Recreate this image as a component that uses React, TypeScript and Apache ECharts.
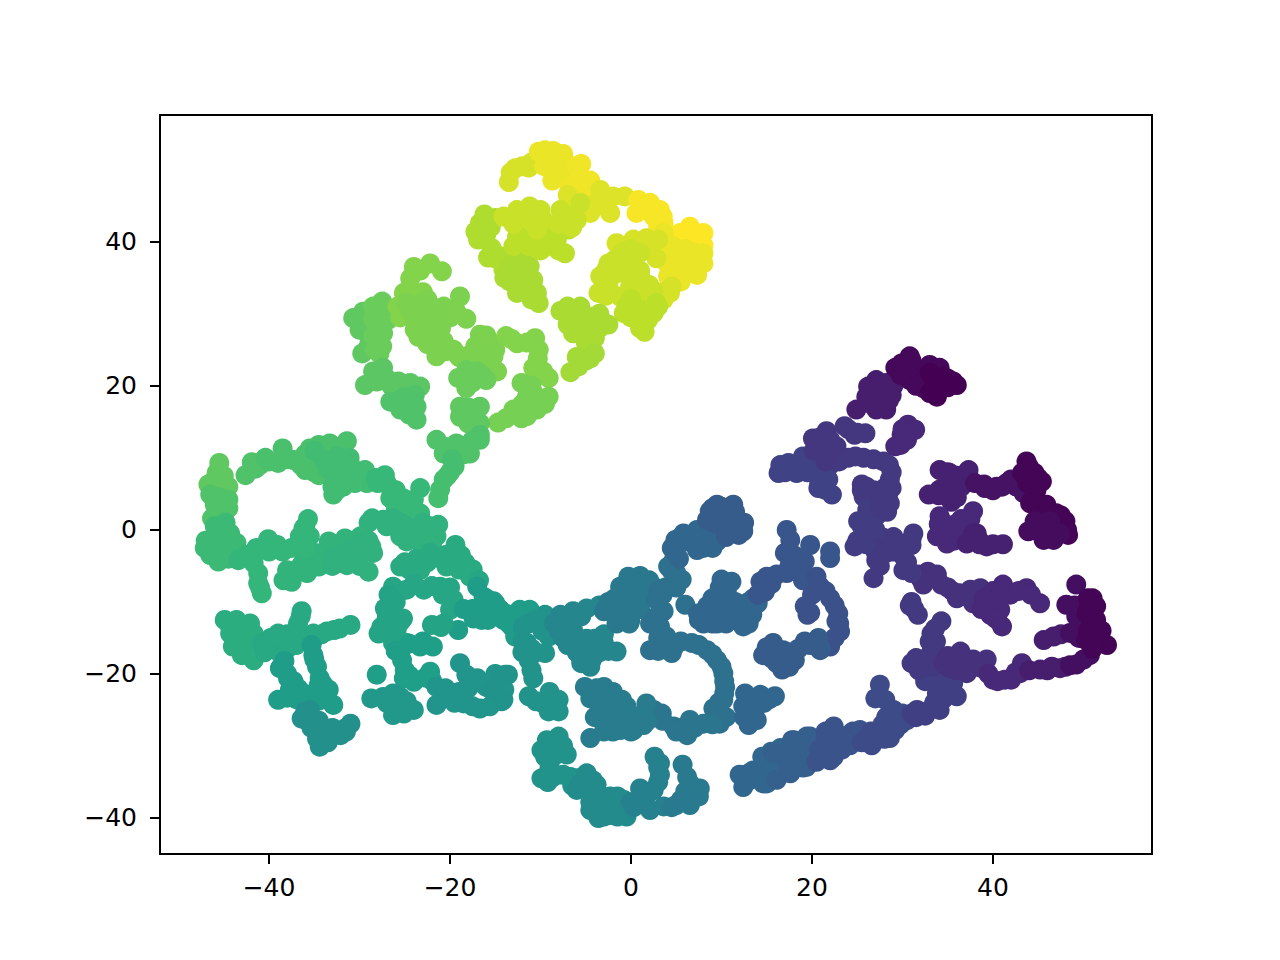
import React, { useEffect, useRef } from "react";
import * as echarts from "echarts";

const xTicks = [-40, -20, 0, 20, 40];
const yTicks = [-40, -20, 0, 20, 40];
const viridis = ["#440154", "#482878", "#3e4989", "#31688e", "#26828e", "#1f9e89", "#35b779", "#6ece58", "#b5de2b", "#fde725"];

// Each row: colour value, then x,y pairs.
const yellowGroup: number[][] = [
  [.94, -13.5,48.3, -13.3,49.6, -12.8,50.2, -12,50.5, -11.3,50.3, -11,51, -10,51],
  [.97, -10.2,52.5, -9.5,52.7, -8.6,52.6, -7.5,52.2, -7.2,51, -8.5,49.5, -9.6,50.5, -8.7,48.5, -8,51, -7,49.5, -6.5,48],
  [.98, -6,50.5, -5.5,50.8, -5.8,49, -5.5,47, -4.5,46.5, -3.5,46, -4.5,48.5, -6.8,47.5, -5,46],
  [.95, -7,46.5, -6,45, -5,44.5, -3.4,47.2, -2,46.3, -.7,46.3, -2.3,44, -4,45.3, -4.5,44, -3,45],
  [.99, .8,45.8, 2.1,45.4, 3.2,44.4, .6,44, 3.6,42.6, 3.5,43.5, 2.5,43.5, 1.5,44.5, 3,42],
  [1, 6.5,42.1, 8,41.2, 5.4,41.2, 6.5,39.8, 7.5,40.5, 8,39.5],
  [.97, 3.6,41.2, 5,38, 8,38.4, 8,37, 7.3,35.4, 6.2,37, 4.1,35.2, 7,36, 5,36.5, 6,39, 7,38.5, 4.5,39.5, 4,38.5, 6,35.5, 5.5,34.5, 4,37],
  [.94, 4.3,32.9, 3.6,32, -1.6,39.8, .26,40.3, 1.7,40.5, 3,40.3, 2.8,37.7, 2.1,39.4, 4.5,33.8, 3,33],
  [.92, -1.8,37.5, -3.4,35.2, -3.6,32.9, -1.6,35.6, .26,37, .26,35.2, -1.2,32.4, -.1,33.8, 1.4,32.9, 2.1,31.5, -1,38.5, 0,39, 1,38.5, 1,36, -1,36.5, -2.5,37, -2.5,34, -2.8,36, -2.8,32.5, 0,34, 1,34, 1,35.5, 2,34, 2.5,33],
  [.9, -.8,30.1, 1,30.6, 2.5,30.1, 1,28, 1.9,29.2, 3,31, 0,32, -.5,31, 0,29.5, 1.5,27.5, 1,29.5, 2.8,31.5],
  [.87, -7.8,30.4, -5.6,31, -4.5,29.6, -2.5,28.5, -6.4,27.3, -5.3,27.3, -4,26.6, -5.6,29.2, -7,31, -6.5,29.5, -7,28.5, -6.5,28.5, -3.5,30, -3.5,28, -5,26, -5.5,28.5, -4.5,28],
  [.86, -4.5,23.8, -5.8,22.7, -6.7,21.9, -4,24.5, -5,23.5, -6,24],
  [.88, -16.2,43.8, -16.7,42.6, -17.2,41.4, -16.9,40.3, -15.4,39.1, -15,37.7, -14.1,36.1, -15,43.3, -15.5,42, -16,41, -14.5,38, -15.8,37.8],
  [.87, -13.4,34.5, -12.6,32.9, -10.2,31.5, -10.4,32.9, -10.8,34.7, -11.2,36.6, -13,37, -12,38, -12.3,36, -12,35, -13,35.5, -14,35, -11.5,33.5, -11,32, -13.5,36.5],
  [.9, -12.6,40.7, -13,39.4, -11.3,39.4, -9.3,39.4, -7.3,38.4, -8.2,40.3, -6.9,41.7, -10.8,40.5, -12,41.5, -9,41, -8,38.8, -10,38.8],
  [.92, -6.7,43.5, -7.8,44.4, -5.6,45.4, -14.1,43.5, -12.6,44.4, -11.2,44.9, -10,44.4, -9.7,43, -11.2,43, -10.4,41.7, -13,42.5, -6,43, -6.5,42, -8,42.5, -7.5,43.5],
];
const limeGroup: number[][] = [
  [.75, -30.7,29.4, -29.6,30.3, -30,27.8, -29.7,24.5, -29.5,28.5, -29,27, -29,25.5],
  [.77, -27.5,31.7, -28.5,29.2, -26.8,29.2, -27.4,27.3, -28.3,25, -28.5,26.9, -27.8,30.5, -28.5,31, -27.5,25.5, -27.8,24.5, -27.5,28.5, -26,30.5],
  [.81, -22.2,37, -20.9,35.9, -23.3,36, -24.4,34.9, -25.1,32.9, -23.7,32.9, -24,36.5, -24.5,33.5, -23,33, -25.8,31, -25.5,29.5],
  [.8, -23,31.5, -24,29.6, -23.9,27.8, -22.2,29.2, -20.7,31, -18.9,32.4, -19.3,30.3, -18.2,29.3, -20.7,29.2, -24.8,31.5, -24.5,30.5, -22.5,32, -22,31, -22,27.5, -22.5,27, -21,28, -20,29.5, -21,30, -24,31, -23,29, -23.5,26.8],
  [.8, -20.7,26.2, -21.5,24.1, -19.6,25, -18.2,24.1, -16.7,27.1, -16.3,25.5, -15.2,24.1, -14.8,22, -16.7,23.2, -21.5,26, -22.5,25.8, -20.5,24.8, -19,24, -17.5,24.5, -16.2,24.2, -15.8,23.2, -15.3,22.5, -17.2,25.5, -16,27, -15.5,26, -15,25],
  [.77, -18.2,22.2, -19.1,21.1, -18.2,19.7, -17,21.3, -17,22, -17.8,21, -16.5,21.5, -17.5,20.5, -16,20.8],
  [.74, -28.5,22, -27.4,22.5, -29.4,20.1, -28.1,20.6, -25.7,20.6, -24.4,20.4, -23.3,19.9, -27,21, -26.5,20, -25,19.5],
  [.72, -26.6,17.8, -25.5,16.7, -23.7,15.3, -23.7,17.1, -25,18.5, -23.9,18.7, -25.5,18, -24.5,16, -24.8,17.5],
  [.81, -13.8,26.9, -12.6,25.9, -10.6,26.6, -10.2,25, -10.8,22.5, -9.1,21.1, -13.2,26.5, -11.5,26, -10.3,23.8, -9.7,22],
  [.79, -12.1,20.4, -9.1,18.5, -10.8,19, -11.2,16.7, -13,16.7, -12.1,15.5, -14.7,14.9, -10.4,16.7, -11.5,18.5, -12,17.5, -13.8,15.5, -9.5,17.5, -11,20, -11.5,15.8],
  [.75, -18.9,17.1, -16.7,17.1, -17.8,16.2, -16.7,14.8, -18.9,15.7, -18,17, -18,14.8],
  [.72, -16.7,13.2, -17.6,12.3, -19.3,12, -21.5,12.5, -20.7,10.6, -19.3,11.6, -17.8,10.6, -16.7,12.5, -20.5,11.5, -18.5,10.5, -18,11.5],
  [.7, -19.5,8.8, -20.7,7, -21.3,4.4, -21.1,5.6, -20,8, -20.3,7.5, -19.8,9.8],
];
const greenGroup: number[][] = [
  [.75, -45.5,9.3, -45.8,7.9, -46.7,6.3, -45.4,6, -45,7.5, -46,7, -44.5,6],
  [.72, -46.5,4.9, -44.5,4.2, -45.4,3, -46.3,1.6, -42.6,7.6, -41.9,9.4, -45.5,4.5, -46,3.5, -45.5,1.5, -44.5,3, -41,9, -41.5,8.5],
  [.68, -45.4,.5, -44.3,-.5, -43.6,-1.8, -47.1,-2.5, -46.1,-1.4, -45.6,-4.4, -45,-2.8, -46,.5, -47,-1.5, -45.5,-.5, -44.5,-2, -46,-3, -46.5,-3.5, -44.5,-4, -44.8,1],
  [.66, -43.4,-4.2, -41.7,-4.6, -41.2,-6, -40.8,-8.8, -41.2,-7.4, -42.5,-3.5, -42,-3.5, -41,-8],
  [.71, -40.4,10, -39,9.3, -38.5,11.3, -37.3,9.7, -36,8.3, -34.5,7.6, -35.5,11.3, -34.5,11.8, -33.3,12, -31.4,12.3, -40,9.5, -38,9.8, -36.5,9, -35.5,9, -35,8, -35.5,10, -36,10.5, -34,10.5, -33,11, -32.5,11.5],
  [.69, -34,9.7, -32.5,10.2, -31.1,10, -32.9,7.9, -32.9,4.9, -31.8,6, -30.9,7.6, -29.4,8.3, -29.2,6.5, -33.5,8.5, -32,8.5, -31,8.5, -31,9, -35,11, -30.5,6.5, -33,6, -32.5,5.5],
  [.67, -27.2,7.6, -26.6,5.8, -26.6,4.4, -25.2,4.4, -23.3,5.8, -24,4.2, -24.8,2.8, -23.3,2.3, -28.2,7.2, -28,6.5, -27,6.5, -26,5.5, -25.5,3, -26,2.8],
  [.64, -21.3,.7, -21.5,-.9, -22.2,.5, -26.3,1.6, -28.6,1.6, -27.4,1.4, -24.8,.5, -25.5,-.9, -24.8,-1.6, -23.7,-1.2, -29,1, -27,.5, -25.5,1, -23,1, -24,-.5, -22.8,-.5, -22,-1.5, -23,-2.5, -22,-2.2],
  [.65, -28.7,-2.3, -29.9,-.9, -31.6,-1.2, -33.4,-1.6, -34.9,-3.2, -36.2,-4.4, -34.5,-5.1, -35.8,-6, -38,-5.6, -38.4,-7, -37.5,-7.2, -33,-2.5, -32,-2, -33.8,-3, -35,-4.5, -36,-5.2, -37,-5.8, -36.5,-5],
  [.64, -32.9,-3.7, -31,-2.8, -31.4,-4.9, -29.6,-3.2, -28.5,-3.2, -29,-5.8, -32.1,-4.6, -30,-2, -30.5,-4, -33,-5, -30,-5, -32,-3.5, -29,-1.5],
  [.66, -35.7,1.5, -36.2,.2, -36.6,-.9, -35.5,-.9, -37.5,-2.5, -39.1,-2.1, -40.1,-1.3, -41.4,-2.5, -40,-3, -38.5,-3, -36,-2.5, -36,.5],
  [.61, -25.5,-5.1, -23.3,-5.6, -23.7,-4, -22.2,-3.2, -19.4,-2.1, -19.6,-4.4, -18.3,-4.6, -20.4,-5.1, -25,-4.5, -24.5,-5.5, -22.5,-4.5, -21,-4, -20.5,-3.5, -18.8,-3.5, -19,-5.5, -17.5,-5.5, -17.8,-6.5],
  [.59, -26.3,-7.9, -24.8,-8.3, -22.9,-8.3, -21.1,-7.9, -19.6,-9.7, -20,-11.1, -16.8,-7, -22,-7.8, -24,-7.5, -25.5,-8.5, -20.8,-9, -20,-8],
  [.55, -19.1,-13.9, -17.4,-12.3, -17,-7.9, -16.3,-9.3, -15,-10.2, -14.1,-12.5, -15.8,-12.5, -18.5,-11, -17.5,-11, -16,-11, -16.5,-12.5, -14.8,-11.5, -13.5,-13],
  [.58, -22,-13.2, -20.7,-13, -25.2,-12.3, -27.2,-10.9, -27,-12.3, -27.9,-14.4, -25.9,-13.9, -26.3,-15.7, -24.8,-15.7, -27,-11.5, -26,-10, -26.8,-9, -27.6,-13.5, -26.5,-14.5, -25.5,-12.8, -21,-13.5],
  [.56, -21.9,-16.2, -23.3,-16.2, -25.3,-18.1, -25.1,-20.6, -24,-21.1, -22.2,-19.7, -28.1,-20.1, -26,-16.8, -25.5,-17, -25,-19.5, -24.5,-15.8, -24.5,-20.2, -23,-15.5, -22.7,-20.5, -22,-20.9],
  [.52, -18.9,-18.5, -18.2,-20.1, -17,-20.6, -21.5,-21.8, -21.5,-24.3, -20,-23, -18.5,-24.1, -16.7,-24.8, -15.6,-24.5, -15.2,-21.8, -13.9,-20.1, -14.3,-23.8, -20.5,-22, -19.5,-24, -19,-22.5, -18,-22, -17.5,-24.5, -17.7,-21.5, -16,-21.8, -15,-23, -15,-20, -14,-22.2],
  [.53, -28.7,-23.4, -27.4,-23.2, -26.3,-22.7, -24.8,-23.8, -24,-25, -26.3,-25.7, -25.1,-25.5, -27,-24, -26,-24, -25.5,-24.5, -25.5,-23.2],
  [.62, -44.9,-12.5, -43.6,-12.5, -42.1,-13, -41.7,-14.4, -44.3,-14.4, -44,-16.2, -43,-17.4, -41.7,-18.1, -44.5,-13, -44,-13.8, -43,-13.5, -43,-15, -42.5,-15.5, -42,-17],
  [.6, -40.8,-15.7, -39,-14.4, -37.7,-15.7, -38.8,-17.1, -36.4,-11.3, -36.8,-13, -36.2,-14.8, -35.1,-14.4, -33.6,-14.1, -32.2,-13.7, -31,-13.2, -40.3,-16, -39.8,-15, -38,-14.5, -38,-16.5, -37,-14.5, -36.5,-12, -37,-16, -34.2,-14.5, -32.8,-13.9, -35,-15, -40.5,-17],
  [.55, -35.1,-17.4, -34.7,-19, -34.4,-20.6, -38.8,-19.2, -37.9,-20.6, -37.7,-22.2, -39,-23.6, -36.2,-22.7, -34.7,-22.7, -33.4,-22.2, -32.9,-24.3, -35.3,-16, -35,-18, -34.5,-21.5, -38.3,-18.2, -38,-20, -37.3,-21, -36.8,-22, -37,-23.5, -38,-23.3, -35.5,-23.5, -36,-24.5, -33.5,-23.5, -34.5,-23.7, -34,-21.5],
  [.5, -36.4,-26.2, -35.3,-27.5, -34.4,-30.1, -34.7,-29, -33.3,-28.2, -32.1,-28.5, -31,-26.9, -35.5,-25, -35.8,-26.5, -36,-25.2, -34.5,-26.5, -34.8,-27.5, -34.5,-28, -33.8,-28, -33,-27.5, -33.5,-29.5, -32.5,-28, -31.5,-28, -31.5,-27.5],
];
const tealGroup: number[][] = [
  [.55, -15.2,-9.9, -13.9,-11.6, -13.2,-13.4, -12.8,-14.8, -12.3,-11.1, -11.2,-11.1, -14.5,-11, -16,-9.5, -12.3,-12, -12.8,-13],
  [.51, -11.3,-13, -11.5,-15.7, -11.3,-18.1, -10.8,-20.6, -9.5,-17.1, -9.1,-14.8, -9.5,-11.8, -12,-13.5, -12,-15.5, -11,-16.5, -12,-17, -10.5,-17, -11,-19.5, -9.8,-14, -9,-13, -10.5,-12.5],
  [.46, -7.8,-11.8, -6.4,-11.3, -4.9,-10.9, -7.5,-13, -6.4,-13.9, -6.4,-16, -4.9,-15.1, -4,-15.1, -4.9,-17.1, -4.5,-19, -3,-15.7, -1.6,-16.9, -8.5,-13, -8,-14, -7.5,-15, -7,-16, -6,-17, -5.5,-18, -5.5,-18.5, -3.5,-17, -4.3,-18, -3,-14.5, -2.5,-16.8, -6.5,-12.5, -3.5,-10.5, -5.5,-12],
  [.4, -3,-11.3, -1.8,-9.5, -1.2,-7.9, -.3,-6.5, 1,-6.4, 2.5,-7.9, -1.6,-13, -.1,-12.7, .6,-10.4, 1.4,-9.3, -2,-11.5, -2.5,-10, -1,-11, -.5,-10.5, -1,-9, 0,-8, -.3,-8.5, 1,-8, 1.5,-7, 2,-7, -.2,-13, 1,-11],
  [.37, 2.8,-9.7, 3.6,-11.3, 2.1,-13, 3.2,-13.4, 3.9,-14.8, 2.1,-16.7, 4.7,-16.4, 6,-10.4, 4.7,-7.4, 5.6,-6.9, 4.1,-5.1, 4.7,-4.2, 3,-8.5, 3.5,-9, 3.8,-8, 2.8,-12, 3,-15, 3.5,-16, 3,-16.8, 5,-8, 4.5,-5.7, 5,-6],
  [.33, 4.9,-1.4, 5.8,-.5, 7.3,-2.8, 8.4,-1.4, 9.5,-1.6, 7.3,0, 6.2,-1.6, 4.8,-3, 4.5,-2.5, 5.3,-4, 5.5,-1, 6.5,-1, 8,-.5, 8,-2.5, 9,-2.5],
  [.29, 8.4,1.4, 9.5,3.5, 11.3,3.5, 10.2,1.4, 12.4,-.2, 11.9,-.7, 8.7,2.6, 10.5,-1, 10,.5, 9,1, 9,3, 10,3.2, 11,2, 11.5,2.5, 12,1, 12.5,1, 10.5,3, 9.5,2],
  [.33, 10,-6.9, 11.1,-7.2, 10.6,-8.8, 8.4,-10.6, 8,-13, 7.4,-11.6, 9.8,-11.6, 12.4,-13.4, 13.4,-11.8, 11.3,-12.5, 12.4,-10.6, 9.8,-8, 10.5,-10, 9,-9.5, 8,-11.5, 9,-13, 7.5,-12.5, 9.5,-13, 10.5,-13, 11.5,-10, 13,-10, 13.5,-9.5, 14,-10.2, 12.5,-12, 10.5,-12, 13,-13, 11,-11],
  [.27, 14.8,-8.6, 14.3,-7.2, 16.1,-6.2, 17.2,-6, 18.9,-6.3, 19.2,-4.4, 17.2,0, 17.6,-1.4, 17,-3.2, 19.8,-2.1, 22,-3.9, 22,-3, 14,-9, 15.5,-7.5, 15,-6.5, 17.5,-5, 18,-3.5, 18.3,-5.5, 19,-7],
  [.25, 20.9,-7.9, 19.2,-10.6, 22,-9.5, 22.9,-11.6, 22.7,-12.7, 23.1,-14.1, 22,-16.2, 20.5,-6.5, 21.5,-8.5, 20,-9, 19.8,-11.5, 19.5,-11.8, 22.5,-10.5, 23,-13, 22.5,-15, 21.5,-16],
  [.29, 20.9,-16.7, 20.7,-15, 19.2,-15.5, 18.1,-18.1, 16.7,-19.4, 15.7,-15.7, 14.6,-17.4, 16.8,-16.7, 16.1,-18.5, 21,-16.5, 19.8,-16, 18.5,-16.5, 17.8,-17, 17.5,-19, 15.5,-17, 15.5,-17.8, 15,-16.3],
  [.37, 6.7,-15.7, 8.4,-16.7, 9.5,-18.1, 10.2,-19.9, 10.4,-21.8, 10.2,-23.6, 9.1,-24.8, 9.8,-26.9, 4.5,-17.1, 5.5,-15.5, 7.5,-16, 9,-17.3, 10,-19, 10.3,-21, 10.3,-22.7, 9.7,-24, 9.5,-25.5, 10.5,-26],
  [.39, 8,-26.9, 6.5,-26.4, 6.2,-28.5, 4.7,-27.3, 3.4,-25.5, 9,-27, 7,-27.5, 5.5,-27.5, 5,-28, 3.5,-26.5, 2.5,-25],
  [.42, 1.7,-24.1, .6,-25.9, .3,-27.8, 1.4,-27.1, -4.5,-28.9, -3,-28, -1.2,-27.8, -2.7,-25.9, -1.2,-25.9, -1,-23.6, -3,-21.8, -5.1,-21.8, -4.5,-23.4, -2.7,-23.6, 1.8,-26.5, 0,-28, -2,-28, -.5,-24.5, -1.8,-25, -3.5,-25, -3.8,-22, -2,-22.5, -2.3,-25, .3,-26.5, -1.5,-23.5, -4,-26],
  [.33, 12.6,-22.7, 14.3,-22.9, 15.9,-23.1, 13.9,-24.5, 13,-27.1, 13.9,-26.4, 12.4,-24.5, 12.5,-26, 13.2,-23.5, 15.3,-23.5, 14.7,-24, 13,-25.5, 12.8,-23.5],
  [.51, -8,-28.7, -9.3,-29.2, -9.9,-30.6, -7.1,-31.2, -8.6,-31.5, -9.9,-34.5, -8.6,-34.3, -6.7,-34.3, -8.5,-29.5, -9,-30.5, -7.5,-30, -8,-30.8, -9.5,-31.5, -9,-33, -9.2,-35, -7.5,-34, -6.5,-35.5, -6,-34.5],
  [.48, -4.9,-33.8, -3.8,-35.4, -6,-36.1, -5.6,-35.2, -4.5,-38.9, -3.6,-40, -2.3,-37, -.8,-37.5, -2.3,-39.6, -.5,-39.8, -1.2,-38.9, -5,-36, -4.2,-34.8, -4.5,-36.5, -4.5,-37.8, -3.5,-37.5, -3,-38.5, -3,-39.8, -1.5,-37, -1.5,-39.8],
  [.44, 1,-35.9, 2.1,-38.9, 2.6,-31.5, 3.2,-34, 2.5,-36.1, 3.6,-38.4, 3.2,-32.4, .3,-38.5, 0,-37.8, 1.5,-37.5, 2,-36.5, 3,-35, 3,-33],
  [.41, 5,-38.2, 6.5,-38.2, 7.6,-35.9, 6.5,-35.2, 5.7,-32.6, 6.2,-34.3, 4.5,-38.5, 5.5,-37.5, 7,-37, 7.5,-37, 6,-36.3],
  [.51, -13.6,-20.1, -14.5,-20.8, -15.4,-22.2, -14.1,-23.6, -11.3,-23.1, -9.7,-24.1, -9,-22.5, -8,-23.6, -8,-25.2, -9.1,-25.2, -10.5,-23.8, -8.5,-24.5],
];
const blueGroup: number[][] = [
  [.33, 12,-34, 12.4,-35.7, 13.5,-33.4, 14.6,-35.2, 15.5,-30.8, 14.8,-32.9, 15,-35.2, 16.5,-31.5, 13,-33.8, 13,-34.8, 14,-34.5, 14.3,-33.7, 15,-33.5, 14.5,-31.5, 15.8,-33, 16.5,-33.5, 16.5,-30.3],
  [.3, 15.7,-31, 16.1,-34.7, 17.6,-33.8, 17.8,-29.2, 18,-29.2, 19,-31.5, 17.2,-32.4, 19.4,-28.7, 19.4,-32.9, 19.8,-28.7, 17,-31, 18,-31, 18.2,-33, 18.7,-30, 19,-33, 20,-30, 20.3,-29],
  [.26, 20.5,-32.2, 21.3,-31, 22.4,-31.5, 22.4,-27.3, 23.1,-28.7, 24.2,-29.9, 25.3,-27.8, 20.8,-30.5, 21.5,-28, 22,-32, 21.5,-29, 22.8,-30, 23.3,-30.5, 24,-28.5, 24.5,-28],
  [.23, 26.6,-29.9, 27.5,-28.2, 28.6,-28.9, 29.2,-27.8, 29,-25, 28.2,-26, 30.5,-26.4, 27.5,-21.5, 27,-23.4, 28.1,-23.6, 25.5,-29.5, 26,-29, 26.5,-28, 28,-29, 27.8,-27, 29,-26.5, 29.8,-27, 30,-25.5],
  [.19, 31.6,-25, 34.1,-25, 33.8,-22.7, 36,-23.1, 35.6,-21.3, 33.1,-20.4, 31,-25.5, 31.5,-26, 32.5,-25.8, 33,-25, 33.5,-24, 34.5,-23.5, 35,-22.5, 34,-21.5, 35,-20.5, 34,-20, 32.5,-21],
];
const indigoGroup: number[][] = [
  [.17, 31,-18.5, 32.3,-18, 33.2,-16.9, 33.2,-14.4, 34.3,-12.7, 31,-10, 31.7,-11.8, 31.8,-19.5, 32.5,-19, 33,-18.5, 33.5,-19, 33,-15.5, 33.7,-15.5, 33.6,-13.7, 31.3,-11, 30.8,-10.5, 31.5,-17.8],
  [.14, 35.2,-19.2, 36.4,-16.9, 37.8,-18, 39.3,-18, 37.1,-19.9, 34.5,-18.5, 35,-17.5, 35.8,-18, 36,-19.5, 37,-18.5, 38,-19, 38.8,-19.2],
  [.11, 40,-20.8, 41.3,-20.8, 43,-19.9, 43.2,-18.5, 39.5,-20, 40.5,-21, 42,-20.8, 42.5,-19.8],
  [.08, 45.2,-19.4, 47.4,-19.2, 45.6,-15.3, 46.7,-14.8, 44,-19.5, 46,-19.5, 46.5,-19, 48,-19, 47.5,-14.5],
  [.04, 49.2,-18.7, 50.7,-17.4, 48.5,-14.3, 49.2,-7.6, 48.1,-10.4, 49.2,-12, 48.5,-18.8, 50,-18, 49.5,-13.5, 49.5,-15, 49.7,-10.5, 49,-10.5, 50,-12.5],
  [.01, 52.6,-16, 51.8,-14.6, 50.3,-15.3, 50.5,-9.5, 51.4,-10.6, 51.4,-12.5, 50.3,-11.6, 51,-16.5, 50.5,-14, 51,-13, 52,-14, 50.5,-11, 51,-9.5, 51,-15.5],
  [.14, 31.7,-6.2, 33.8,-6.2, 32.3,-7.6, 34.3,-7.6, 36.3,-8.8, 37.5,-8.3, 38.6,-8.1, 37.8,-10.2, 32.8,-5.8, 32,-6.8, 35.5,-8.5, 35,-8, 36,-9.5, 37,-9.2, 38,-9],
  [.11, 39.7,-9.3, 41.1,-7.6, 41.9,-9, 43.7,-8.1, 45.2,-10.2, 39.7,-11.8, 41,-13.4, 40.8,-11.1, 39,-9.5, 39,-10.5, 38.7,-11, 40,-8.5, 40.5,-9.5, 41,-9, 42.8,-8.5, 44.2,-9, 40.2,-12.2, 40.5,-12.5],
  [.17, 27.9,-1.1, 29.2,-1.9, 31.2,-.5, 31,-2.1, 27.1,-4.2, 26.8,-6.7, 28.2,-3.2, 30.1,-3.7, 30.1,-5.6, 31,-6, 30.5,-4.5, 29,-3, 29,-1, 30,-2.5, 31,-1.3, 28,-2, 27,-3, 27.5,-5],
  [.18, 24.7,-2.3, 25.7,-.9, 26,.5, 25.1,1.2, 27.1,1.9, 26.1,2.8, 25.7,4.6, 27.1,4.6, 25,-1.5, 26,-2, 26.5,0, 27,0, 25.5,.5, 26,1.8, 26.3,3.5, 26.8,3],
  [.17, 25.5,6.3, 28.4,4.9, 28.6,3.7, 28.6,7, 27.9,9.5, 25.7,10, 24,10, 22.2,9.7, 27.5,3, 28.3,2.5, 27.5,4, 25.5,5.5, 26,6, 26.8,5.5, 28,5.8, 28.8,5.8, 28.8,8, 28.5,9, 26.8,9.8, 24.8,10.2, 23,9.5, 22,9],
  [.2, 16.5,9, 16.3,7.9, 17.4,9.3, 18.3,7.9, 19,10.2, 20,9, 20.9,7.9, 20.7,5.8, 22.2,4.9, 21.4,5.6, 21.8,7, 20.8,6.5, 19.5,8, 18.5,8.8, 17.8,8.5, 17,8, 19.8,10],
  [.16, 23.6,14.4, 24.7,13.2, 25.9,13.4, 21.6,13.7, 20.1,12.7, 22.7,11.6, 21.5,9.5, 21,11, 21.5,10.5, 22,12.5, 20.8,12.8, 20.2,11, 24,14, 25,13.5],
  [.11, 30.6,14.6, 31.4,13.9, 29.9,13.2, 29.2,11.6, 30.5,12.5, 30,14, 30.8,13.5, 29.8,11.8],
  [.08, 27.1,20.8, 26.2,19.9, 26,18.5, 27.1,16.7, 28.2,16.7, 24.9,16.7, 27.5,18.5, 28.8,18.7, 28.2,20.4, 27.5,19.5, 27,20, 26.5,17.5, 27.8,17.5, 28.5,18, 29,20],
  [.02, 30.8,24.1, 29.9,23.1, 29.2,22.5, 33,22.9, 34.1,22.5, 30.8,20.8, 32.3,19.7, 29.8,21.5, 30,22, 31,23.5, 31,22, 33.5,22, 32,21, 31.5,20],
  [0, 35.6,20.6, 36,20.1, 34.5,21.3, 33.8,18.5, 33,21.8, 33,19, 33.5,20, 35,21, 34,19.5, 35,19.8],
  [.09, 34.1,8.3, 37.3,8.3, 35.2,7.9, 32.9,4.9, 34.1,5.6, 35.4,3.9, 37.5,6.9, 35,8, 36,7.5, 36.5,7.5, 36.5,6, 35,6.5, 34,4.8, 35.5,5, 36,4.5],
  [.05, 39.1,5.8, 40.4,6, 41.5,6.5, 43.4,5.1, 42.6,6, 38,6.5, 39,6.3, 40,5.5, 41,6, 42,7, 43,7],
  [.01, 43.2,7.9, 43.7,9.5, 45.4,6.7, 44.6,7.9, 44.1,3.7, 45.9,3.5, 47,2.3, 48,1.2, 48.3,-.7, 43.8,6.5, 44.8,5.5, 44.5,4.5, 45,3.8, 46,2.8, 47.5,2, 47.5,.5, 48.2,0, 44.3,6.5, 44,8.7, 45,7.2],
  [.03, 46.7,-1.4, 45.6,-1.4, 43.9,-.2, 44.6,1.2, 46.3,1.2, 47.4,-.5, 45.8,.5, 45.3,-.5, 44.8,.5, 47,-.5],
  [.11, 34.1,1.9, 33.8,-.9, 34.9,-1.9, 36,.9, 37.8,2.6, 36.7,0, 34,.8, 34.5,1, 34.5,-1, 35.5,0, 35.7,-1.5, 36.5,1.5, 37.5,1.5, 37,.5],
  [.09, 37.1,-1.9, 38.2,-.5, 39.3,-2.3, 41.1,-2, 37.8,-.5, 37.5,-1.5, 38.5,-1.5, 40,-2, 38.5,-2],
];

const allGroups = [yellowGroup, limeGroup, greenGroup, tealGroup, blueGroup, indigoGroup];

function toPoints(groups: number[][][]): number[][] {
  const out: number[][] = [];
  for (const group of groups) {
    for (const row of group) {
      for (let i = 1; i < row.length; i += 2) out.push([row[i], row[i + 1], row[0]]);
    }
  }
  return out;
}

export default function App() {
  const ref = useRef<HTMLDivElement>(null);
  useEffect(() => {
    document.body.style.margin = "0";
    const chart = echarts.init(ref.current!, undefined, { renderer: "svg" });
    const label = {
      color: "#000",
      fontSize: 25,
      fontFamily: "DejaVu Sans",
      formatter: (v: number) => String(v).replace("-", "\u2212"),
    };
    const tick = { show: true, length: 10, inside: false, lineStyle: { color: "#000", width: 2 } };
    chart.setOption({
      animation: false,
      backgroundColor: "#fff",
      grid: { left: 160, right: 128, top: 115, bottom: 106, show: true, borderColor: "#000", borderWidth: 2, backgroundColor: "transparent" },
      visualMap: { show: false, type: "continuous", dimension: 2, min: 0, max: 1, inRange: { color: viridis }, seriesIndex: 0 },
      xAxis: {
        type: "value", min: -52.05, max: 57.57, splitLine: { show: false }, axisLine: { show: false, onZero: false },
        axisTick: { ...tick, customValues: xTicks },
        axisLabel: { ...label, margin: 21, customValues: xTicks },
      },
      yAxis: {
        type: "value", min: -45, max: 57.6, splitLine: { show: false }, axisLine: { show: false, onZero: false },
        axisTick: { ...tick, customValues: yTicks },
        axisLabel: { ...label, margin: 23, customValues: yTicks },
      },
      series: [{ type: "scatter", data: toPoints(allGroups), symbolSize: 20, itemStyle: { opacity: 1 }, silent: true, encode: { x: 0, y: 1 } }],
    });
    return () => chart.dispose();
  }, []);
  return <div ref={ref} style={{ position: "absolute", left: 0, top: 0, width: 1280, height: 960 }} />;
}
